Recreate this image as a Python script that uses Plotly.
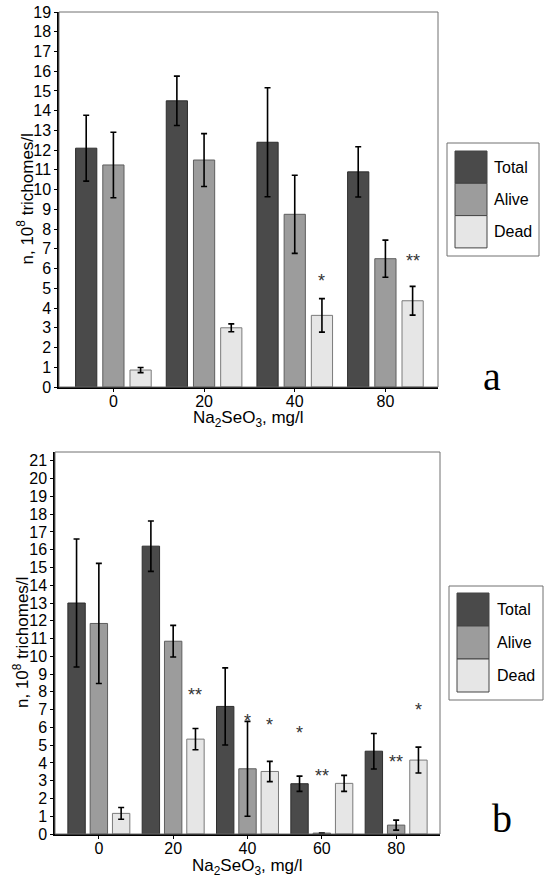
import plotly.graph_objects as go

# panel a
doses_a = ['0', '20', '40', '80']
total_a = [12.1, 14.5, 12.4, 10.9]
total_a_err = [1.67, 1.25, 2.76, 1.27]
alive_a = [11.25, 11.5, 8.75, 6.5]
alive_a_err = [1.66, 1.34, 1.98, 0.94]
dead_a = [0.86, 3.0, 3.63, 4.37]
dead_a_err = [0.13, 0.2, 0.85, 0.73]
# (dose, series index, height, label)
stars_a = [('40', 2, 5.58, '*'), ('80', 2, 6.6, '**')]

# panel b
doses_b = ['0', '20', '40', '60', '80']
total_b = [13.0, 16.2, 7.18, 2.83, 4.66]
total_b_err = [3.6, 1.42, 2.17, 0.43, 1.0]
alive_b = [11.85, 10.85, 3.67, 0.05, 0.5]
alive_b_err = [3.38, 0.89, 2.67, 0.0, 0.28]
dead_b = [1.16, 5.34, 3.52, 2.85, 4.16]
dead_b_err = [0.33, 0.6, 0.57, 0.45, 0.73]
stars_b = [('20', 2, 8.07, '**'), ('40', 1, 6.6, '*'), ('40', 2, 6.37, '*'),
           ('60', 0, 5.9, '*'), ('60', 1, 3.47, '**'), ('80', 1, 4.3, '**'),
           ('80', 2, 7.2, '*')]

series = ['Total', 'Alive', 'Dead']
fills = ['#4a4a4a', '#9c9c9c', '#e6e6e6']
edges = ['#2e2e2e', '#5e5e5e', '#7a7a7a']
x_title = 'Na<sub>2</sub>SeO<sub>3</sub>, mg/l'
y_title = 'n, 10<sup>8</sup> trichomes/l'

W, H = 550, 884
BARGAP = 0.1
SANS = 'Liberation Sans, Arial, sans-serif'
SERIF = 'Liberation Serif, Times New Roman, serif'


def px(x):
  return x / W


def py(y):
  return 1 - y / H


fig = go.Figure()

panels = [
  ('x', 'y', doses_a, [(total_a, total_a_err), (alive_a, alive_a_err), (dead_a, dead_a_err)], stars_a),
  ('x2', 'y2', doses_b, [(total_b, total_b_err), (alive_b, alive_b_err), (dead_b, dead_b_err)], stars_b),
]

for xa, ya, doses, data, stars in panels:
  for k, (vals, errs) in enumerate(data):
    fig.add_trace(go.Bar(x=doses, y=vals, name=series[k], xaxis=xa, yaxis=ya,
                         marker=dict(color=fills[k], line=dict(color=edges[k], width=1)),
                         error_y=dict(type='data', array=errs, color='black',
                                      thickness=1.6, width=3),
                         showlegend=False))
  slot = (1 - BARGAP) / 3
  for dose, k, h, lab in stars:
    fig.add_annotation(x=doses.index(dose) + (k - 1) * slot, y=h, xref=xa, yref=ya,
                       text=lab, showarrow=False, yshift=-4,
                       xanchor='center', yanchor='middle',
                       font=dict(family=SANS, size=18, color='#333'))
  # light frame on top and right
  fig.add_shape(type='rect', xref=xa + ' domain', yref=ya + ' domain',
                x0=0, x1=1, y0=0, y1=1, line=dict(color='#707070', width=1))

axis_common = dict(showgrid=False, zeroline=False, showline=True, linecolor='black',
                   linewidth=1.5, ticks='outside', ticklen=3, tickwidth=1.2,
                   tickcolor='black', automargin=False,
                   tickfont=dict(family=SANS, size=16, color='black'))

fig.update_layout(
  width=W, height=H, margin=dict(l=0, r=0, t=0, b=0),
  plot_bgcolor='white', paper_bgcolor='white',
  barmode='group', bargap=BARGAP, bargroupgap=0.22,
  xaxis=dict(domain=[px(59), px(438)], anchor='y', type='category',
             range=[-0.6, 3.58], ticklabelstandoff=-4, **axis_common),
  yaxis=dict(domain=[py(387), py(12)], anchor='x', range=[0, 19], dtick=1,
             **axis_common),
  xaxis2=dict(domain=[px(55), px(440)], anchor='y2', type='category',
              range=[-0.59, 4.59], ticklabelstandoff=-4, **axis_common),
  yaxis2=dict(domain=[py(834), py(452)], anchor='x2', range=[0, 21.5], dtick=1,
              **axis_common),
)

# axis titles
for xa, ya, tx, lx in [('x', 'y', 419, 25), ('x2', 'y2', 867, 21)]:
  fig.add_annotation(x=0.5, y=py(tx), xref=xa + ' domain', yref='paper', text=x_title,
                     xanchor='center', yanchor='middle', showarrow=False,
                     font=dict(family=SANS, size=17, color='black'))
  fig.add_annotation(x=px(lx), y=0.5, xref='paper', yref=ya + ' domain', text=y_title,
                     textangle=-90, xanchor='center', yanchor='middle', showarrow=False,
                     font=dict(family=SANS, size=17, color='black'))

# hand drawn legends, one per panel
legends = [
  (447, 539, 143, 256, 455, 487, 151, 32.3, 492),
  (449, 543, 586, 700, 457, 489, 593, 33.0, 495),
]
for bx0, bx1, by0, by1, sx0, sx1, sy0, sh, tx in legends:
  fig.add_shape(type='rect', xref='paper', yref='paper',
                x0=px(bx0), x1=px(bx1), y0=py(by1), y1=py(by0),
                line=dict(color='#707070', width=1), fillcolor='white')
  for k, name in enumerate(series):
    top = sy0 + k * sh
    fig.add_shape(type='rect', xref='paper', yref='paper',
                  x0=px(sx0), x1=px(sx1), y0=py(top + sh), y1=py(top),
                  line=dict(color='#444', width=1), fillcolor=fills[k])
    fig.add_annotation(x=px(tx), y=py(top + sh / 2), xref='paper', yref='paper',
                       xanchor='left', yanchor='middle', text=name, showarrow=False,
                       font=dict(family=SANS, size=16, color='black'))

# panel letters
fig.add_annotation(x=px(492), y=py(376), xref='paper', yref='paper', text='a',
                   xanchor='center', yanchor='middle', showarrow=False,
                   font=dict(family=SERIF, size=40, color='black'))
fig.add_annotation(x=px(502), y=py(818), xref='paper', yref='paper', text='b',
                   xanchor='center', yanchor='middle', showarrow=False,
                   font=dict(family=SERIF, size=40, color='black'))

# page body has a default margin, drop it so the figure fills the window
fig.write_html("out.html", config={'displayModeBar': False},
               post_script="document.body.style.margin='0';")
